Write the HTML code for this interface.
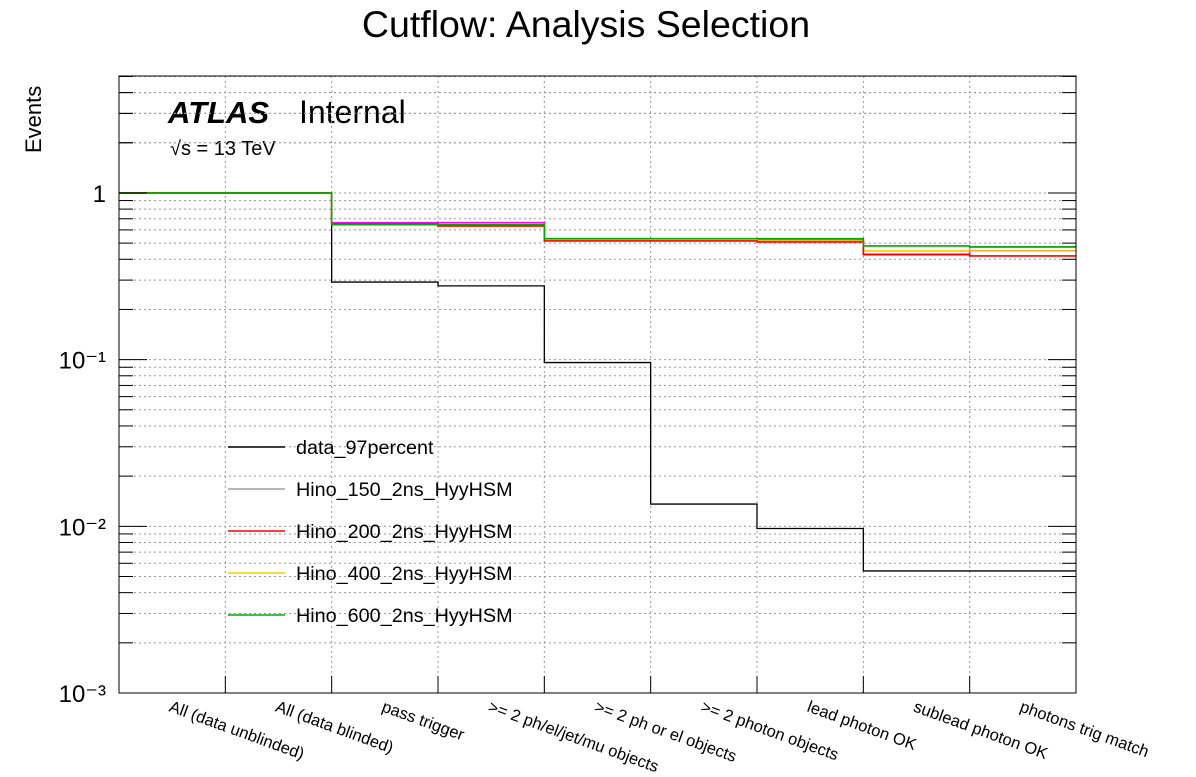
<!DOCTYPE html>
<html><head><meta charset="utf-8"><style>
body{margin:0;background:#fff;}
svg text{font-family:"Liberation Sans",sans-serif;}
</style></head><body>
<svg id="c" width="1196" height="772" xmlns="http://www.w3.org/2000/svg">
<text x="586" y="37" font-size="37.5" text-anchor="middle">Cutflow: Analysis Selection</text>
<text transform="translate(41,153) rotate(-90)" font-size="22">Events</text>
<text x="168" y="123" font-size="31" font-weight="bold" font-style="italic">ATLAS</text>
<text x="299" y="123" font-size="32">Internal</text>
<text x="170" y="155" font-size="20">√s = 13 TeV</text>
<g id="grid"></g><g id="series"></g><g id="axes"></g><g id="legend"></g>
</svg>
<script>
const categories=["All (data unblinded)","All (data blinded)","pass trigger",">= 2 ph/el/jet/mu objects",">= 2 ph or el objects",">= 2 photon objects","lead photon OK","sublead photon OK","photons trig match"];
const seriesNames=["data_97percent","Hino_150_2ns_HyyHSM","Hino_200_2ns_HyyHSM","Hino_400_2ns_HyyHSM","Hino_600_2ns_HyyHSM","Hino_extra"];
const seriesColors=["#000000","#a0a0a0","#ff0000","#ffcc00","#00aa00","#ff00ff"];
const data97=[1,1,0.292,0.277,0.096,0.0136,0.0097,0.0054,0.0054];
const hino150=[1,1,0.66,0.663,0.532,0.52,0.52,0.43,0.474];
const hino200=[1,1,0.65,0.634,0.515,0.515,0.508,0.426,0.419];
const hino400=[1,1,0.645,0.634,0.523,0.523,0.515,0.449,0.449];
const hino600=[1,1,0.645,0.645,0.532,0.532,0.532,0.481,0.474];
const hinoExtra=[1,1,0.663,0.663,0.52,0.52,0.52,0.426,0.45];
const yTickLabels=["10⁻³","10⁻²","10⁻¹","1"];
const yTickValues=[0.001,0.01,0.1,1];
const allSeries=[data97,hino150,hinoExtra,hino400,hino200,hino600];
const drawColors=["#000000","#a0a0a0","#ff00ff","#ffcc00","#ff0000","#00aa00"];
const X0=119,X1=1076,Y0=76,Y1=693,YMIN=0.001,YMAX=5.03;
const NS="http://www.w3.org/2000/svg";
const bw=(X1-X0)/categories.length;
const xs=i=>X0+i*bw;
const ys=v=>Y1-(Math.log10(v)-Math.log10(YMIN))/(Math.log10(YMAX)-Math.log10(YMIN))*(Y1-Y0);
function mk(p,t,a){const e=document.createElementNS(NS,t);for(const k in a)e.setAttribute(k,a[k]);document.getElementById(p).appendChild(e);return e;}
for(let d=-3;d<=0;d++)for(let m=1;m<=9;m++){const v=m*Math.pow(10,d);if(v>YMAX||(d==-3&&m==1))continue;const y=ys(v);
const g=mk('grid','line',{x1:X0,x2:X1,y1:y,y2:y,stroke:'#999','stroke-dasharray':'2,3'});
const big=m==1;
const t=mk('axes','line',{x1:X0,x2:X0+(big?28:14),y1:y,y2:y,stroke:'#000'});
const t2=mk('axes','line',{x1:X1,x2:X1-(big?28:14),y1:y,y2:y,stroke:'#000'});}
for(const m of [2,3,4,5]){const y=ys(m);const g=mk('grid','line',{x1:X0,x2:X1,y1:y,y2:y,stroke:'#999','stroke-dasharray':'2,3'});
const t=mk('axes','line',{x1:X0,x2:X0+14,y1:y,y2:y,stroke:'#000'});}
for(let i=1;i<categories.length;i++){const x=xs(i);
const g=mk('grid','line',{x1:x,x2:x,y1:Y0,y2:Y1,stroke:'#999','stroke-dasharray':'2,3'});
const t=mk('axes','line',{x1:x,x2:x,y1:Y1,y2:Y1-17,stroke:'#000'});}
allSeries.forEach((s,k)=>{let d='';s.forEach((v,i)=>{const y=ys(v);d+=(i?'L':'M')+xs(i)+','+y+'L'+xs(i+1)+','+y;});
const p=mk('series','path',{d:d,fill:'none',stroke:drawColors[k],'stroke-width':k==0?1.3:1.6});});
const f=mk('axes','rect',{x:X0,y:Y0,width:X1-X0,height:Y1-Y0,fill:'none',stroke:'#000'});
yTickLabels.forEach((l,i)=>{const t=mk('axes','text',{x:X0-13,y:ys(yTickValues[i])+9,'font-size':24,'text-anchor':'end'});t.textContent=l;});
categories.forEach((c,i)=>{const x=xs(i)+bw/2-4;const t=mk('axes','text',{transform:`translate(${x},${Y1+18}) rotate(20)`,'font-size':16.5});t.textContent=c;});
seriesNames.slice(0,5).forEach((n,i)=>{const y=447+i*42;
const l=mk('legend','line',{x1:228,x2:285,y1:y,y2:y,stroke:seriesColors[i],'stroke-width':1.5});
const t=mk('legend','text',{x:296,y:y+7,'font-size':19.8});t.textContent=n;});
</script>
</body></html>
